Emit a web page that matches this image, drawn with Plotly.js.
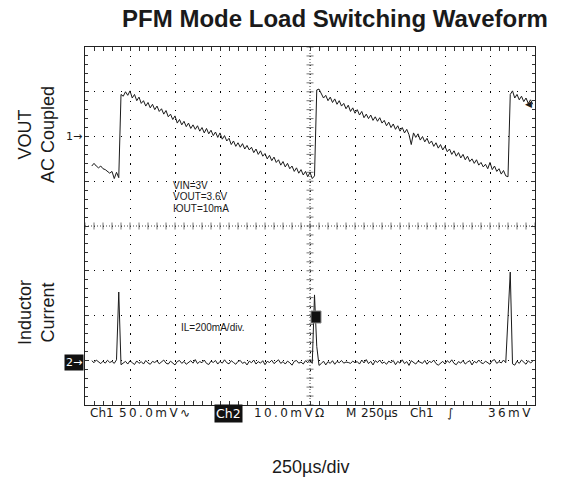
<!DOCTYPE html>
<html><head><meta charset="utf-8">
<script src="https://cdn.plot.ly/plotly-3.0.1.min.js"></script>
<style>html,body{margin:0;padding:0;background:#fff;}#chart{width:566px;height:478px;}</style>
</head><body><div id="chart"></div>
<script>
// ---- scope settings ----
const timePerDivUs = 250;
const ch1MvPerDiv = 50;
const ch2MaPerDiv = 200;
const triggerLevelMv = 36;
const sampleStartUs = 37.5;
const sampleStepUs = 12.5;

// ---- CH1: VOUT, AC coupled (mV) ----
const voutMv = [
 -33,-30,-33,-35,-33,-36,-37,-39,-41,-39,-47,-40,-46,
 47,45,50,46,51,43,47,40,44,37,
 40,34,38,32,36,30,34,28,31,25,
 29,22,25,19,23,15,19,13,17,11,
 15,9,13,8,12,6,10,4,9,3,
 7,1,5,-1,4,-3,1,-5,-2,-9,
 -5,-11,-7,-12,-8,-14,-10,-15,-12,-18,
 -14,-20,-16,-22,-19,-25,-21,-27,-23,-29,
 -26,-32,-28,-34,-30,-36,-33,-39,-35,-41,
 -37,-43,-39,-45,-40,-47,
 -44,
 52,53,47,43,46,40,44,38,42,36,
 40,34,37,31,35,28,32,26,30,24,
 28,21,25,20,24,18,22,17,21,15,
 18,12,16,10,14,8,12,6,10,4,
 8,2,-9,4,-1,3,-4,0,-6,-2,
 -8,-5,-11,-7,-13,-9,-15,-11,-17,-14,
 -20,-16,-22,-18,-24,-20,-26,-22,-28,-25,
 -30,-26,-32,-29,-34,-31,-36,-29,-37,-33,
 -39,-36,-42,-38,-44,-45,
 47,51,43,47,41,45,39,43,37,41,36
];

// ---- CH2: inductor current (mA) ----
const inductorMa = [
 6,-3,9,0,-7,4,-5,8,-2,3,-6,
 10,313,-12,
 -4,3,-9,6,-3,-11,5,-6,2,-9,
 7,-4,-10,3,-2,6,-8,0,9,-5,
 -9,4,-3,-13,2,7,-6,3,-10,0,
 6,-5,11,-7,2,-3,9,-6,-11,4,
 -2,7,-9,3,-5,10,-3,-8,6,-2,
 -10,3,7,-6,0,-13,4,-3,9,-9,
 2,-5,6,-12,3,-2,8,-7,0,10,
 -6,2,-9,4,-3,-14,3,7,-5,0,
 -9,6,-3,9,-6,
 300,70,-15,
 -7,4,-13,2,-6,6,-10,3,-3,7,
 -5,0,-2,-6,4,-3,2,-9,9,-4,
 11,-7,3,-13,6,-2,9,-6,0,-10,
 4,-3,7,-12,3,-5,10,-7,2,-15,
 6,-3,-9,4,0,-6,7,-10,3,-2,
 9,-7,-14,-4,3,-9,6,-3,10,-6,
 -12,2,-5,7,-9,0,6,-13,3,-4,
 9,-3,-7,4,-2,-10,6,11,-6,2,
 -4,9,-3,
 220,402,-8,
 -14,4,-6,9,-3,-10,6,-4,3
];

// ---- texts ----
const titleText = 'PFM Mode Load Switching Waveform';
const ch1Label = 'VOUT<br>AC Coupled';
const ch2Label = 'Inductor<br>Current';
const xLabel = '250µs/div';
const condLines = ['VIN=3V', 'VOUT=3.6V', 'IOUT=10mA'];
const ilScale = 'IL=200mA/div.';
const statusItems = ['Ch1', '50.0mV∿', 'Ch2', '10.0mVΩ', 'M', '250µs', 'Ch1', '∫', '36mV'];

// ---- derived ranges ----
const nDivX = 10, nDivY = 8;
const ch1ZeroDiv = 6, ch2ZeroDiv = 0.96;
const xRange = [0, nDivX * timePerDivUs];
const yRange = [-ch1ZeroDiv * ch1MvPerDiv, (nDivY - ch1ZeroDiv) * ch1MvPerDiv];
const y2Range = [-ch2ZeroDiv * ch2MaPerDiv, (nDivY - ch2ZeroDiv) * ch2MaPerDiv];
const xMid = (xRange[0] + xRange[1]) / 2;
const yMid = (yRange[0] + yRange[1]) / 2;

const ink = '#1a1a1a';
const spaced = s => Array.from(s).join('\u2009');

// graticule tick marks on the centre cross
const cxTicks = [], cyTicks = [];
for (let v = xRange[0]; v <= xRange[1] + 1e-9; v += timePerDivUs / 5) cxTicks.push(v);
for (let v = yRange[0]; v <= yRange[1] + 1e-9; v += ch1MvPerDiv / 5) cyTicks.push(v);

const traces = [
  {x: cxTicks, y: cxTicks.map(() => yMid), mode: 'markers', hoverinfo: 'skip', showlegend: false,
   marker: {symbol: 'line-ns', size: 5, line: {width: 1, color: '#777'}}},
  {x: cyTicks.map(() => xMid), y: cyTicks, mode: 'markers', hoverinfo: 'skip', showlegend: false,
   marker: {symbol: 'line-ew', size: 5, line: {width: 1, color: '#777'}}},
  {x0: sampleStartUs, dx: sampleStepUs, y: voutMv, mode: 'lines', showlegend: false,
   line: {color: ink, width: 1}},
  {x0: sampleStartUs, dx: sampleStepUs, y: inductorMa, yaxis: 'y2', mode: 'lines', showlegend: false,
   line: {color: ink, width: 1}}
];

const axisCommon = {
  showgrid: true, gridcolor: '#000', gridwidth: 1,
  ticks: 'inside', ticklen: 4, tickcolor: '#333', tickwidth: 1,
  showline: true, linecolor: '#222', linewidth: 1, mirror: 'allticks',
  showticklabels: false, zeroline: false, fixedrange: true
};

const lbl = {family: 'Liberation Sans, Arial, sans-serif', color: ink};
const scopeFont = {family: 'DejaVu Sans, sans-serif', size: 12, color: ink};

const annotations = [
  {xref: 'paper', yref: 'paper', x: -0.109, y: (405 - 134) / 358, text: ch1Label, textangle: -90,
   showarrow: false, font: Object.assign({size: 18}, lbl), xanchor: 'center', yanchor: 'middle'},
  {xref: 'paper', yref: 'paper', x: -0.109, y: (405 - 312) / 358, text: ch2Label, textangle: -90,
   showarrow: false, font: Object.assign({size: 18}, lbl), xanchor: 'center', yanchor: 'middle'},
  {xref: 'paper', yref: 'paper', x: 0.5, y: (405 - 467) / 358, text: xLabel,
   showarrow: false, font: Object.assign({size: 18}, lbl), xanchor: 'center', yanchor: 'middle'},
  {xref: 'paper', yref: 'y', x: 0, y: 0, xshift: -1, text: '1→', showarrow: false,
   font: {family: 'DejaVu Sans', size: 11, color: ink}, xanchor: 'right', yanchor: 'middle'},
  {xref: 'paper', yref: 'y2', x: 0, y: 0, xshift: -1, text: '2→', showarrow: false, bgcolor: '#111', borderpad: 1,
   font: {family: 'DejaVu Sans', size: 11, color: '#fff'}, xanchor: 'right', yanchor: 'middle'},
  {xref: 'paper', yref: 'y', x: 1, y: triggerLevelMv, xshift: -1, text: '◀', showarrow: false,
   font: {family: 'DejaVu Sans', size: 9, color: ink}, xanchor: 'right', yanchor: 'middle'},
  {xref: 'paper', yref: 'paper', x: (179 - 85) / 450, y: (405 - 327) / 358, text: ilScale, showarrow: false,
   font: Object.assign({size: 10}, lbl), xanchor: 'left', yanchor: 'middle'}
];
condLines.forEach((t, i) => annotations.push({
  xref: 'paper', yref: 'paper', x: (170.5 - 85) / 450, y: (405 - (185 + i * 11.5)) / 358, text: t,
  showarrow: false, font: Object.assign({size: 10}, lbl), xanchor: 'left', yanchor: 'middle'}));

// status line: left edge of each item (px), and whether the item is letter-spaced
const statusX = [89, 118, 214, 253, 345, 360, 409, 446, 532];
const statusSpaced = [false, true, false, true, false, false, false, false, true];
statusItems.forEach((t, i) => {
  const isBox = i === 2;
  const isLast = i === statusItems.length - 1;
  annotations.push({xref: 'paper', yref: 'paper', x: (statusX[i] - 85) / 450, y: (405 - 413) / 358,
    text: statusSpaced[i] ? spaced(t) : t, showarrow: false, xanchor: isLast ? 'right' : 'left', yanchor: 'middle',
    bgcolor: isBox ? '#111' : 'rgba(0,0,0,0)', borderpad: isBox ? 1 : 0,
    font: Object.assign({}, scopeFont, isBox ? {color: '#fff', size: 12.5} : {})});
});

const layout = {
  width: 566, height: 478,
  margin: {l: 85, r: 31, t: 47, b: 73, pad: 0},
  paper_bgcolor: '#fff', plot_bgcolor: '#fff',
  title: {text: '<b>' + titleText + '</b>', font: {family: 'Liberation Sans, Arial, sans-serif', size: 24, color: ink},
    xref: 'container', yref: 'container', x: 335 / 566, xanchor: 'center', y: 1 - 19 / 478, yanchor: 'middle'},
  xaxis: Object.assign({}, axisCommon, {range: xRange, tick0: 0, dtick: timePerDivUs, griddash: '1.3px,7.65px',
    minor: {dtick: timePerDivUs / 5, ticks: 'inside', ticklen: 3, tickcolor: '#333', showgrid: false}}),
  yaxis: Object.assign({}, axisCommon, {range: yRange, tick0: 0, dtick: ch1MvPerDiv, griddash: '1.3px,7.7px',
    minor: {dtick: ch1MvPerDiv / 5, ticks: 'inside', ticklen: 3, tickcolor: '#333', showgrid: false}}),
  yaxis2: {overlaying: 'y', range: y2Range, visible: false, fixedrange: true},
  shapes: [
    {type: 'line', xref: 'x', yref: 'y', x0: xMid, x1: xMid, y0: yRange[0], y1: yRange[1],
     line: {color: '#444', width: 1, dash: '1px,2px'}},
    {type: 'line', xref: 'x', yref: 'y', x0: xRange[0], x1: xRange[1], y0: yMid, y1: yMid,
     line: {color: '#444', width: 1, dash: '1px,2px'}},
    {type: 'rect', xref: 'paper', yref: 'paper', x0: (311 - 85) / 450, x1: (321 - 85) / 450,
     y0: (405 - 323) / 358, y1: (405 - 311) / 358, fillcolor: '#111', line: {color: '#888', width: 1}}
  ],
  annotations: annotations,
  showlegend: false
};

Plotly.newPlot('chart', traces, layout, {displayModeBar: false, staticPlot: true});
</script>
</body></html>
